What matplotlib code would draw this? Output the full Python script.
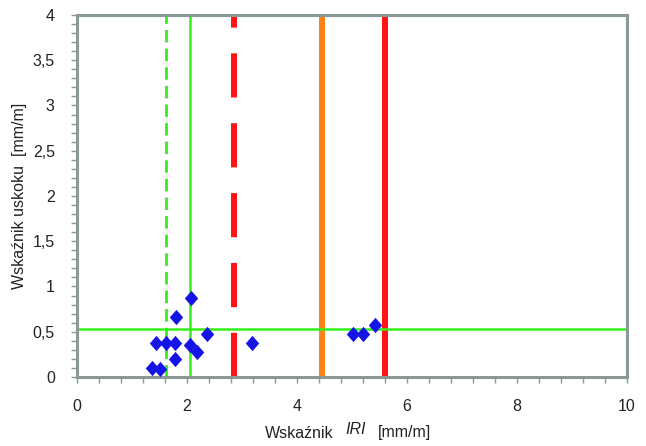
import matplotlib
matplotlib.use('Agg')
import matplotlib.pyplot as plt
from matplotlib.ticker import MultipleLocator, FuncFormatter

plt.rcParams['font.family'] = ['Liberation Sans', 'DejaVu Sans']

# --- data ---
iri = [2.08, 1.80, 2.37, 1.44, 1.61, 1.79, 2.06, 2.18, 1.79, 1.36, 1.51, 3.19, 5.02, 5.20, 5.42]
uskok = [0.87, 0.66, 0.48, 0.38, 0.38, 0.38, 0.35, 0.28, 0.20, 0.10, 0.09, 0.38, 0.48, 0.48, 0.58]

# threshold lines (x positions) and horizontal limit
green_dashed_x = 1.62
green_solid_x = 2.05
red_dashed_x = 2.86
orange_x = 4.45
red_solid_x = 5.6
green_h_y = 0.535

x_ticks = [0, 2, 4, 6, 8, 10]
y_ticks = [0, 0.5, 1, 1.5, 2, 2.5, 3, 3.5, 4]

frame_col = '#8a9898'
green = '#33ee1a'

fig = plt.figure(figsize=(6.46, 4.46), dpi=100)
ax = fig.add_axes([0.1192, 0.1547, 0.8514, 0.8117])

# vertical threshold lines
ax.plot([green_dashed_x, green_dashed_x], [0, 4], color=green, lw=2.0,
        dashes=(4.5, 2.2), dash_capstyle='butt', zorder=2)
ax.plot([green_solid_x, green_solid_x], [0, 4], color=green, lw=1.8, zorder=2)
ax.plot([red_dashed_x, red_dashed_x], [0, 4], color='#ff1414', lw=4.3,
        dashes=(7.4, 4.3), dash_capstyle='butt', zorder=2)
ax.plot([orange_x, orange_x], [0, 4], color='#ff8214', lw=4.3, zorder=2)
ax.plot([red_solid_x, red_solid_x], [0, 4], color='#ff1414', lw=4.3, zorder=2)
ax.plot([0, 10], [green_h_y, green_h_y], color=green, lw=1.8, zorder=2)

# points
diamond = [(0, 1), (0.88, 0), (0, -1), (-0.88, 0), (0, 1)]
ax.plot(iri, uskok, linestyle='none', marker=diamond, markersize=11,
        color='#1414e6', markeredgewidth=0, zorder=3)

ax.set_xlim(0, 10)
ax.set_ylim(0, 4)
ax.set_xticks(x_ticks)
ax.set_yticks(y_ticks)
ax.xaxis.set_minor_locator(MultipleLocator(0.4))
ax.yaxis.set_minor_locator(MultipleLocator(0.1))
ax.yaxis.set_major_formatter(FuncFormatter(lambda v, p: ('%g' % v).replace('.', ',')))

for s in ax.spines.values():
    s.set_color(frame_col)
    s.set_linewidth(2.2)
ax.tick_params(which='both', direction='out', color=frame_col, width=1.0,
               labelsize=11.5, labelcolor='#222222')
ax.tick_params(which='major', length=4, pad=12)
ax.tick_params(which='minor', length=4)
ax.tick_params(axis='x', which='both', top=False)
ax.tick_params(axis='y', which='both', right=False)

ax.set_ylabel('Wskaźnik uskoku  [mm/m]', fontsize=11.5, color='#222222', labelpad=4)

# x label in three pieces (IRI in italics)
fig.text(265 / 646, 1 - 433 / 446, 'Wskaźnik', fontsize=11.5, color='#222222', va='center', ha='left')
fig.text(345 / 646, 1 - 430 / 446, 'IRI', fontsize=11.5, style='italic', color='#222222', va='center', ha='left')
fig.text(378 / 646, 1 - 433 / 446, '[mm/m]', fontsize=11.5, color='#222222', va='center', ha='left')

fig.savefig('out.png', dpi=100)
